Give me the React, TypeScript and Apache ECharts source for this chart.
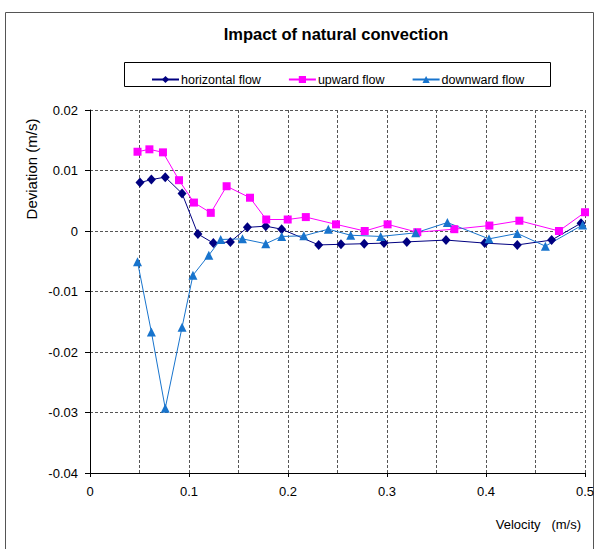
import React, { useEffect, useRef } from "react";
import * as echarts from "echarts";

const hX = [0.0505, 0.062, 0.076, 0.093, 0.109, 0.1246, 0.1418, 0.159, 0.1775, 0.1936, 0.231, 0.2535, 0.277, 0.297, 0.32, 0.3596, 0.3987, 0.4316, 0.4663, 0.496];
const hY = [0.008, 0.0085, 0.0089, 0.0062, -0.0005, -0.002, -0.0018, 0.0006, 0.0008, 0.0003, -0.0023, -0.0022, -0.0021, -0.002, -0.0018, -0.0015, -0.002, -0.0023, -0.0015, 0.0013];
const uX = [0.048, 0.06, 0.0737, 0.0899, 0.105, 0.122, 0.138, 0.1616, 0.178, 0.1997, 0.218, 0.2485, 0.2775, 0.3006, 0.3306, 0.368, 0.4034, 0.4337, 0.4737, 0.5];
const uY = [0.0131, 0.0135, 0.013, 0.0084, 0.0047, 0.003, 0.0074, 0.0055, 0.0019, 0.0019, 0.0023, 0.0011, 0.0, 0.0011, -0.0002, 0.0003, 0.0009, 0.0017, 0.0, 0.0031];
const dX = [0.048, 0.062, 0.076, 0.093, 0.104, 0.12, 0.132, 0.154, 0.1775, 0.1936, 0.216, 0.2407, 0.2633, 0.2936, 0.329, 0.361, 0.403, 0.4316, 0.46, 0.4976];
const dY = [-0.0051, -0.0167, -0.0293, -0.0159, -0.0073, -0.004, -0.0014, -0.0013, -0.0021, -0.0009, -0.0008, 0.0003, -0.0007, -0.0009, -0.0003, 0.0014, -0.0013, -0.0004, -0.0025, 0.001];

const seriesNames = ["horizontal flow", "upward flow", "downward flow"];
const colors = ["#000080", "#FF00FF", "#1874CD"];
const xTicks = [0, 0.1, 0.2, 0.3, 0.4, 0.5];

const pairs = (xs: number[], ys: number[]) => xs.map((x, i) => [x, ys[i]]);

export default function App() {
  const ref = useRef<HTMLDivElement>(null);
  useEffect(() => {
    document.body.style.margin = "0";
    const chart = echarts.init(ref.current!, null, { renderer: "svg" });
    const font = "Liberation Sans, Arial, sans-serif";
    const gridLine = { show: true, lineStyle: { color: "#555", type: [3, 2] as any, width: 1 } };
    chart.setOption({
      animation: false,
      backgroundColor: "#fff",
      textStyle: { fontFamily: font },
      title: {
        text: "Impact of natural convection",
        left: 331,
        top: 20,
        textAlign: "center",
        textStyle: { fontSize: 16.5, fontWeight: "bold", color: "#000", fontFamily: font },
      },
      legend: {
        data: seriesNames,
        left: 146,
        top: 68,
        itemWidth: 27,
        itemHeight: 9,
        itemGap: 27,
        textStyle: { fontSize: 12.5, color: "#000", fontFamily: font, padding: [0, 0, 0, -3] },
      },
      grid: { left: 90, right: 13, top: 110, bottom: 76 },
      xAxis: {
        type: "value",
        min: 0,
        max: 0.5,
        interval: 0.1,
        axisLine: { show: true, onZero: false, lineStyle: { color: "#000", width: 1 } },
        axisTick: { show: true, length: 4, lineStyle: { color: "#000" } },
        axisLabel: {
          fontSize: 13,
          color: "#000",
          margin: 12,
          formatter: (v: number) => {
            const t = xTicks.find((x) => Math.abs(x - v) < 1e-6);
            return t === undefined ? "" : String(t);
          },
        },
        splitLine: gridLine,
        minorTick: { show: false, splitNumber: 2 },
        minorSplitLine: gridLine,
      },
      yAxis: {
        type: "value",
        min: -0.04,
        max: 0.02,
        interval: 0.01,
        axisLine: { show: true, lineStyle: { color: "#000", width: 1 } },
        axisTick: { show: true, length: 5, lineStyle: { color: "#000" } },
        axisLabel: {
          fontSize: 13,
          color: "#000",
          margin: 12,
          formatter: (v: number) => String(Number(v.toFixed(2))),
        },
        splitLine: gridLine,
      },
      graphic: [
        {
          type: "rect",
          shape: { x: 5.5, y: 12.5, width: 588, height: 600 },
          style: { fill: "none", stroke: "#555", lineWidth: 1 },
          silent: true,
          z: -10,
        },
        {
          type: "rect",
          shape: { x: 124.5, y: 62.5, width: 426, height: 24 },
          style: { fill: "none", stroke: "#000", lineWidth: 1 },
          silent: true,
        },
        {
          type: "text",
          x: 31,
          y: 169,
          rotation: Math.PI / 2,
          style: {
            text: "Deviation (m/s)",
            fontSize: 15,
            fontFamily: font,
            fill: "#000",
            align: "center",
            verticalAlign: "middle",
          },
        },
        {
          type: "text",
          x: 581,
          y: 524,
          style: {
            text: "Velocity   (m/s)",
            fontSize: 13,
            fontFamily: font,
            fill: "#000",
            align: "right",
            verticalAlign: "middle",
          },
        },
      ],
      series: [
        {
          name: seriesNames[0],
          type: "line",
          data: pairs(hX, hY),
          symbol: "diamond",
          symbolSize: [9, 10],
          itemStyle: { color: colors[0] },
          lineStyle: { color: colors[0], width: 1 },
        },
        {
          name: seriesNames[1],
          type: "line",
          data: pairs(uX, uY),
          symbol: "rect",
          symbolSize: 8,
          itemStyle: { color: colors[1] },
          lineStyle: { color: colors[1], width: 1 },
        },
        {
          name: seriesNames[2],
          type: "line",
          data: pairs(dX, dY),
          symbol: "triangle",
          symbolSize: 9,
          itemStyle: { color: colors[2] },
          lineStyle: { color: colors[2], width: 1 },
        },
      ],
    });
    return () => chart.dispose();
  }, []);
  return (
    <div
      ref={ref}
      style={{ position: "absolute", left: 0, top: 0, width: 598, height: 549 }}
    />
  );
}
